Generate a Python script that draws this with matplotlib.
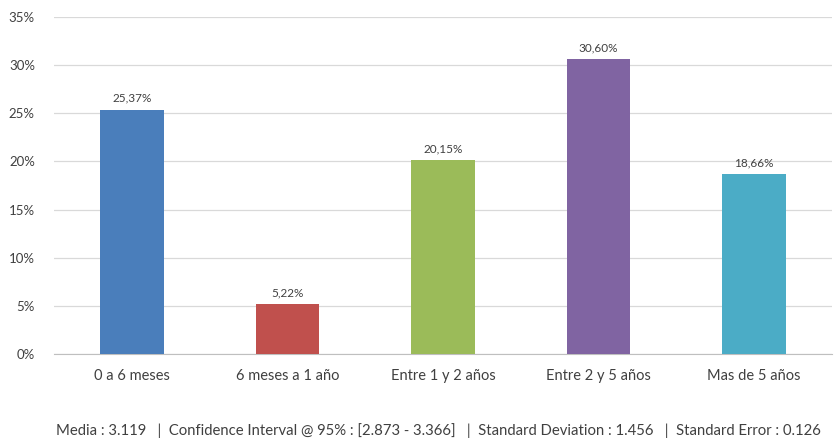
import matplotlib.pyplot as plt
from matplotlib.ticker import FuncFormatter

# categorias y porcentajes
categorias = ['0 a 6 meses', '6 meses a 1 año', 'Entre 1 y 2 años',
              'Entre 2 y 5 años', 'Mas de 5 años']
valores = [25.37, 5.22, 20.15, 30.60, 18.66]
colores = ['#4a7ebb', '#c0504d', '#9bbb59', '#8064a2', '#4bacc6']
pie = ('Media : 3.119   |  Confidence Interval @ 95% : [2.873 - 3.366]   |  '
       'Standard Deviation : 1.456   |  Standard Error : 0.126')

plt.rcParams['font.family'] = ['Lato', 'DejaVu Sans']

fig = plt.figure(figsize=(8.36, 4.4), dpi=100)
ax = fig.add_axes([0.065, 0.1955, 0.93, 0.766])

x = range(len(categorias))
ax.bar(x, valores, width=0.41, color=colores, zorder=3)
for i, v in enumerate(valores):
    ax.text(i, v + 0.6, f'{v:.2f}%'.replace('.', ','), ha='center', va='bottom',
            fontsize=8.5, color='#404040')

ax.set_xlim(-0.5, len(categorias) - 0.5)
ax.set_ylim(0, 35)
ax.set_yticks(range(0, 36, 5))
ax.yaxis.set_major_formatter(FuncFormatter(lambda v, p: f'{v:.0f}%'))
ax.set_xticks(list(x))
ax.set_xticklabels(categorias)
ax.tick_params(axis='both', length=0, colors='#404040')
ax.tick_params(axis='x', pad=11, labelsize=10.5)
ax.tick_params(axis='y', pad=14, labelsize=9.5)
ax.grid(axis='y', color='#d9d9d9', linewidth=0.9, zorder=0)
for s in ['top', 'right', 'left']:
    ax.spines[s].set_visible(False)
ax.spines['bottom'].set_color('#bfbfbf')

fig.text(0.525, 0.004, pie, ha='center', va='bottom', fontsize=10.7, color='#404040')

fig.savefig('out.png', dpi=100)
